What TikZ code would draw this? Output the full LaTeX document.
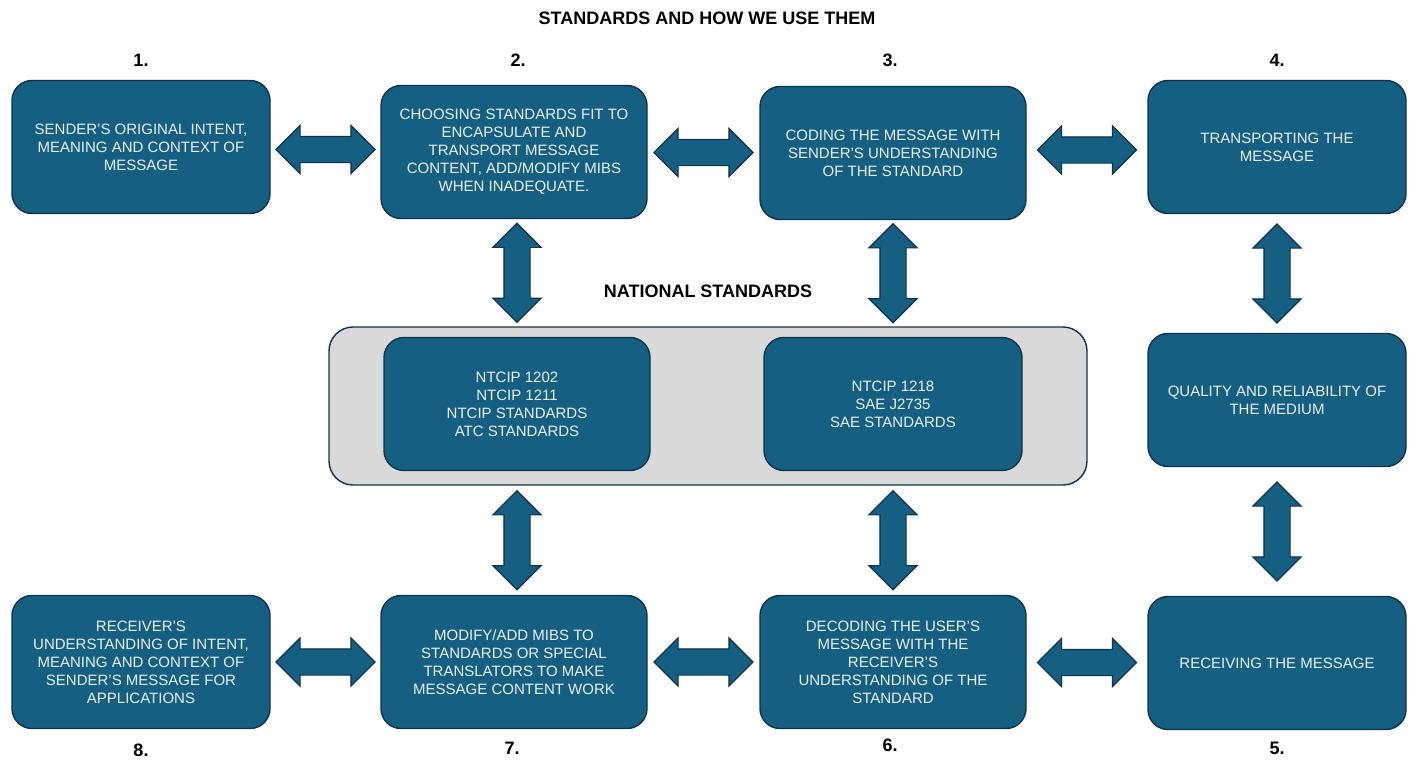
\documentclass[tikz,border=0pt]{standalone}
\usepackage{fontspec}
\setmainfont{Liberation Sans}
\usepackage{xcolor}
\usetikzlibrary{shapes,arrows,positioning,calc}
\definecolor{boxblue}{HTML}{156082}
\definecolor{boxedge}{HTML}{10324A}
\definecolor{panelgray}{HTML}{D9D9D9}
\definecolor{boxtext}{HTML}{EAF0F4}

\begin{document}
\begin{tikzpicture}[x=1pt, y=-1pt,
    every node/.style={font=\fontsize{15}{18}\selectfont},
    stage/.style={rectangle, rounded corners=20pt, draw=boxedge, line width=1.4pt, fill=boxblue, text=boxtext, align=center, minimum width=258pt, minimum height=133pt, inner sep=0pt},
    widestage/.style={stage, minimum width=266pt},
    panel/.style={rectangle, rounded corners=24pt, draw=boxedge, line width=1.4pt, fill=panelgray, minimum width=758pt, minimum height=158pt},
    dblarrow/.style={double arrow, draw=boxedge, line width=1.2pt, fill=boxblue, minimum height=99pt, inner xsep=0pt, inner ysep=12.5pt, double arrow head extend=11pt, double arrow tip angle=90},
    num/.style={font=\fontsize{18}{20}\selectfont\bfseries}]
    \useasboundingbox (0,0) rectangle (1413,760);

    \node[num] (title) at (707,18) {STANDARDS AND HOW WE USE THEM};

    % top row
    \node[stage] (b1) at (141,147) {SENDER’S ORIGINAL INTENT,\\MEANING AND CONTEXT OF\\MESSAGE};
    \node[widestage] (b2) at (514,152) {CHOOSING STANDARDS FIT TO\\ENCAPSULATE AND\\TRANSPORT MESSAGE\\CONTENT, ADD/MODIFY MIBS\\WHEN INADEQUATE.};
    \node[widestage] (b3) at (893,153) {CODING THE MESSAGE WITH\\SENDER’S UNDERSTANDING\\OF THE STANDARD};
    \node[stage] (b4) at (1277,147) {TRANSPORTING THE\\MESSAGE};

    % national standards
    \node[num] (natl) at (708,291) {NATIONAL STANDARDS};
    \node[panel] (gray) at (708,406) {};
    \node[widestage] (ntcip) at (517,404) {NTCIP 1202\\NTCIP 1211\\NTCIP STANDARDS\\ATC STANDARDS};
    \node[stage] (sae) at (893,404) {NTCIP 1218\\SAE J2735\\SAE STANDARDS};
    \node[stage] (qual) at (1277,400) {QUALITY AND RELIABILITY OF\\THE MEDIUM};

    % bottom row
    \node[stage] (b8) at (141,662) {RECEIVER’S\\UNDERSTANDING OF INTENT,\\MEANING AND CONTEXT OF\\SENDER’S MESSAGE FOR\\APPLICATIONS};
    \node[widestage] (b7) at (514,662) {MODIFY/ADD MIBS TO\\STANDARDS OR SPECIAL\\TRANSLATORS TO MAKE\\MESSAGE CONTENT WORK};
    \node[widestage] (b6) at (893,662) {DECODING THE USER’S\\MESSAGE WITH THE\\RECEIVER’S\\UNDERSTANDING OF THE\\STANDARD};
    \node[stage] (b5) at (1277,663) {RECEIVING THE MESSAGE};

    % step numbers
    \node[num] at (b1.north |- 0,60) {1.};
    \node[num] at (518,60) {2.};
    \node[num] at (890,60) {3.};
    \node[num] at (b4.north |- 0,60) {4.};
    \node[num] at (b5.south |- 0,748) {5.};
    \node[num] at (890,745) {6.};
    \node[num] at (512,748) {7.};
    \node[num] at (b8.south |- 0,750) {8.};

    % horizontal links
    \node[dblarrow] at ($(b1.east)!0.5!(b2.west)$) {};
    \node[dblarrow] at ($(b2.east)!0.5!(b3.west)$) {};
    \node[dblarrow] at ($(b3.east)!0.5!(b4.west)$) {};
    \node[dblarrow] at ($(b8.east)!0.5!(b7.west)$) {};
    \node[dblarrow] at ($(b7.east)!0.5!(b6.west)$) {};
    \node[dblarrow] at ($(b6.east)!0.5!(b5.west)$) {};

    % vertical links
    \node[dblarrow, rotate=90] at ($(ntcip.north |- b2.south)!0.5!(ntcip.north |- gray.north)$) {};
    \node[dblarrow, rotate=90] at ($(sae.north |- b3.south)!0.5!(sae.north |- gray.north)$) {};
    \node[dblarrow, rotate=90] at ($(b4.south)!0.5!(qual.north)$) {};
    \node[dblarrow, rotate=90] at ($(ntcip.south |- gray.south)!0.5!(ntcip.south |- b7.north)$) {};
    \node[dblarrow, rotate=90] at ($(sae.south |- gray.south)!0.5!(sae.south |- b6.north)$) {};
    \node[dblarrow, rotate=90] at ($(qual.south)!0.5!(b5.north)$) {};
\end{tikzpicture}
\end{document}
